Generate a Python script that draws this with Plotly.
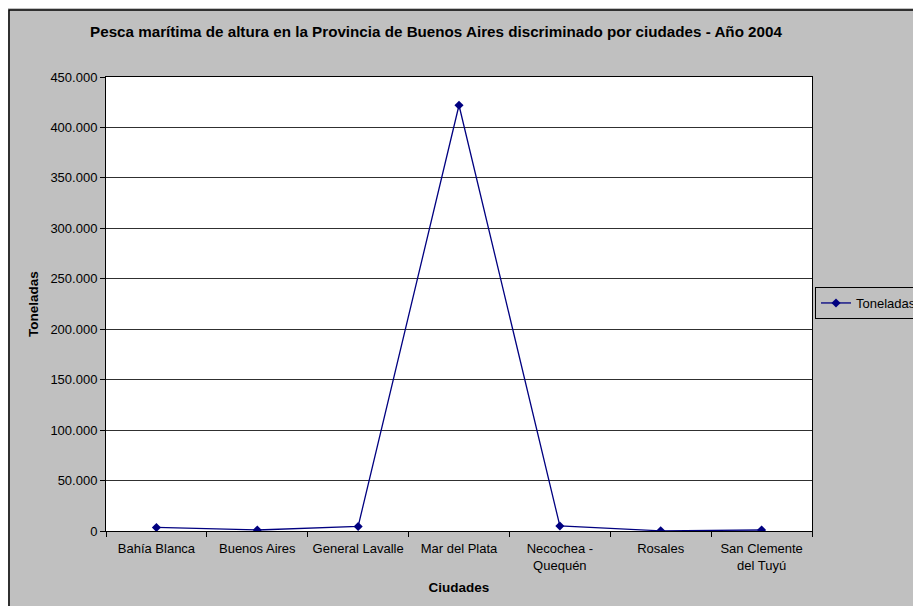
import plotly.graph_objects as go

ciudades = ["Bahía Blanca", "Buenos Aires", "General Lavalle", "Mar del Plata",
            "Necochea -<br>Quequén", "Rosales", "San Clemente<br>del Tuyú"]
toneladas = [3500, 1000, 4500, 422000, 5000, 200, 1000]
y_ticks = [0, 50000, 100000, 150000, 200000, 250000, 300000, 350000, 400000, 450000]

FONT = "Liberation Sans, Arial, sans-serif"
NAVY = "#000080"

# page has an 8px body offset; plot area in figure coords
L, R, T, B = 98, 804, 69, 523
W, H = 921, 606
PW, PH = R - L, B - T

def px(fx):
    return (fx - L) / PW

def py(fy):
    return (B - fy) / PH

fig = go.Figure()
fig.add_trace(go.Scatter(
    x=ciudades, y=toneladas, name="Toneladas", mode="lines+markers",
    line=dict(color=NAVY, width=1.3),
    marker=dict(symbol="diamond", size=7, color=NAVY),
))

fig.update_layout(
    width=W, height=H,
    paper_bgcolor="#C0C0C0", plot_bgcolor="#FFFFFF",
    margin=dict(l=L, r=W - R, t=T, b=H - B, autoexpand=False),
    separators=",.",
    font=dict(family=FONT, size=13, color="#000000"),
    title=dict(text="<b>Pesca marítima de altura en la Provincia de Buenos Aires discriminado por ciudades - Año 2004</b>",
               xref="paper", x=px(428), xanchor="center", y=1 - 24 / H, yanchor="middle",
               font=dict(family=FONT, size=15.2, color="#000000")),
    showlegend=True,
    legend=dict(x=px(807), xanchor="left",
                y=py(295), yanchor="middle",
                bgcolor="#C0C0C0", bordercolor="#000000", borderwidth=1,
                font=dict(family=FONT, size=13, color="#000000"),
                itemwidth=30, tracegroupgap=0),
    xaxis=dict(
        type="category", tickson="boundaries", ticks="outside", ticklen=5,
        tickcolor="#000000", showline=True, linecolor="#000000", linewidth=1,
        mirror=True, showgrid=False, zeroline=False, ticklabelstandoff=5,
        tickfont=dict(family=FONT, size=13, color="#000000"),
        title=dict(text="<b>Ciudades</b>", font=dict(family=FONT, size=13.5, color="#000000"),
                   standoff=11),
        range=[-0.5, 6.5],
    ),
    yaxis=dict(
        range=[0, 450000], tickvals=y_ticks, tickformat=",d",
        ticks="outside", ticklen=5, tickcolor="#000000",
        showline=True, linecolor="#000000", linewidth=1, mirror=True,
        showgrid=True, gridcolor="#303030", gridwidth=1, zeroline=False,
        tickfont=dict(family=FONT, size=13, color="#000000"),
    ),
)

# y-axis title placed as annotation for exact position
fig.add_annotation(text="<b>Toneladas</b>", xref="paper", yref="paper",
                   x=px(25), y=py(296), textangle=-90, showarrow=False,
                   xanchor="center", yanchor="middle",
                   font=dict(family=FONT, size=13.5, color="#000000"))

# outer chart frame (extends beyond right/bottom edges like the reference)
fig.add_shape(type="rect", xref="paper", yref="paper",
              x0=px(1), x1=px(940), y0=py(620), y1=py(2),
              line=dict(color="#000000", width=1.5), fillcolor="rgba(0,0,0,0)",
              layer="below")

fig.write_html("out.html")
